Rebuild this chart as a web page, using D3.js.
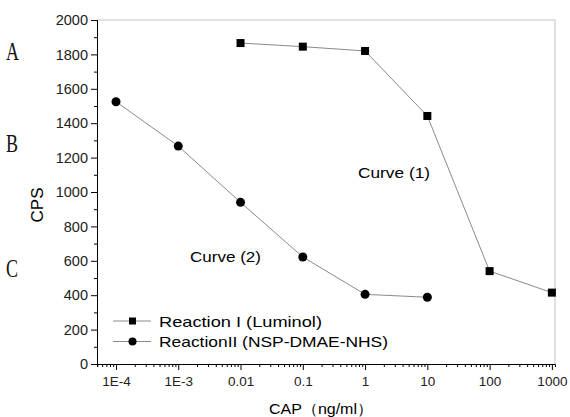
<!DOCTYPE html>
<html>
<head>
<meta charset="utf-8">
<script src="https://d3js.org/d3.v7.min.js"></script>
<style>
  body { margin: 0; background: #fff; }
  svg text { font-family: "Liberation Sans", Arial, sans-serif; }
</style>
</head>
<body>
<div id="chart"></div>
<script>
const width = 570;
const height = 417;

// data
const xTicks = [1e-4, 1e-3, 0.01, 0.1, 1, 10, 100, 1000];
const xTickLabels = ["1E-4", "1E-3", "0.01", "0.1", "1", "10", "100", "1000"];
const yTicks = [0, 200, 400, 600, 800, 1000, 1200, 1400, 1600, 1800, 2000];

const luminolX = [0.01, 0.1, 1, 10, 100, 1000];
const luminolY = [1866, 1845, 1820, 1442, 540, 415];
const dmaeX = [1e-4, 1e-3, 0.01, 0.1, 1, 10];
const dmaeY = [1525, 1267, 940, 622, 405, 388];

const legendLabels = ["Reaction I (Luminol)", "ReactionII (NSP-DMAE-NHS)"];

const margin = {left: 97, right: 15, top: 20, bottom: 53};

const x = d3.scaleLog()
    .domain([Math.pow(10, -4.305), Math.pow(10, 3.05)])
    .range([margin.left, width - margin.right]);
const y = d3.scaleLinear()
    .domain([0, 2000])
    .range([height - margin.bottom, margin.top]);

const svg = d3.select("div#chart").append("svg")
    .attr("width", width)
    .attr("height", height);

// light frame on top and right
svg.append("path")
    .attr("d", `M${x.range()[0]},${y(2000)}H${x.range()[1]}V${y(0)}`)
    .attr("fill", "none")
    .attr("stroke", "#d8d8d8")
    .attr("stroke-width", 1.5);

// x axis with minor log ticks
const minor = [];
for (let e = -5; e <= 3; e++) {
    for (let m = 2; m <= 9; m++) {
        const v = m * Math.pow(10, e);
        if (v >= x.domain()[0] && v <= x.domain()[1]) minor.push(v);
    }
}
const gx = svg.append("g").attr("transform", `translate(0,${y(0)})`);
gx.call(d3.axisBottom(x).tickValues(minor).tickSize(3).tickFormat(""));
gx.call(g => g.append("g").call(d3.axisBottom(x).tickValues(xTicks).tickSize(6)
    .tickFormat((d, i) => xTickLabels[i])));
gx.selectAll(".domain").attr("stroke", "#000");
gx.selectAll("line").attr("stroke", "#000");
gx.selectAll("text").attr("fill", "#222").attr("dy", "0.95em")
    .style("font-size", "13.5px");
gx.selectAll(".domain").filter((d, i) => i > 0).remove();

// y axis with minor ticks
const yMinor = d3.range(100, 2000, 200);
const gy = svg.append("g").attr("transform", `translate(${x.range()[0]},0)`);
gy.call(d3.axisLeft(y).tickValues(yMinor).tickSize(3).tickFormat(""));
gy.call(g => g.append("g").call(d3.axisLeft(y).tickValues(yTicks).tickSize(6)
    .tickFormat(d3.format("d"))));
gy.selectAll(".domain").attr("stroke", "#000");
gy.selectAll("line").attr("stroke", "#000");
gy.selectAll("text").attr("fill", "#222").style("font-size", "14.5px");

// series lines
const line = d3.line().x(d => x(d[0])).y(d => y(d[1]));
const s1 = luminolX.map((v, i) => [v, luminolY[i]]);
const s2 = dmaeX.map((v, i) => [v, dmaeY[i]]);

[s1, s2].forEach(s => {
    svg.append("path")
        .attr("d", line(s))
        .attr("fill", "none")
        .attr("stroke", "#8a8a8a")
        .attr("stroke-width", 1);
});

svg.selectAll("rect.sq")
    .data(s1)
    .join("rect")
    .attr("class", "sq")
    .attr("x", d => x(d[0]) - 4)
    .attr("y", d => y(d[1]) - 4)
    .attr("width", 8)
    .attr("height", 8)
    .attr("fill", "#000");

svg.selectAll("circle.dot")
    .data(s2)
    .join("circle")
    .attr("class", "dot")
    .attr("cx", d => x(d[0]))
    .attr("cy", d => y(d[1]))
    .attr("r", 4.5)
    .attr("fill", "#000");

// stretched text like the picture
function label(px, py, txt, len, size) {
    return svg.append("text").attr("x", px).attr("y", py)
        .style("font-size", size + "px")
        .attr("textLength", len)
        .attr("lengthAdjust", "spacingAndGlyphs")
        .text(txt);
}

// annotations
label(358, 178, "Curve (1)", 72, 15);
label(190, 262, "Curve (2)", 71, 15);

// legend
const legendLen = [163, 229];
legendLabels.forEach((lab, i) => {
    const ly = 321 + i * 20.5;
    svg.append("line").attr("x1", 113).attr("x2", 151).attr("y1", ly).attr("y2", ly)
        .attr("stroke", "#8a8a8a");
    if (i === 0) {
        svg.append("rect").attr("x", 129).attr("y", ly - 3.5).attr("width", 7).attr("height", 7);
    } else {
        svg.append("circle").attr("cx", 132.5).attr("cy", ly).attr("r", 4);
    }
    label(159, ly + 5.5, lab, legendLen[i], 15);
});

// axis titles
svg.append("text")
    .attr("transform", `translate(43,205) rotate(-90)`)
    .attr("text-anchor", "middle")
    .style("font-size", "17px")
    .attr("textLength", 35)
    .attr("lengthAdjust", "spacingAndGlyphs")
    .text("CPS");
label(269, 414, "CAP（ng/ml）", 104, 15);

// side letters
[["A", 60], ["B", 152], ["C", 277]].forEach(([t, ly]) => {
    svg.append("text")
        .attr("transform", `translate(6,${ly}) scale(0.72,1)`)
        .style("font-family", "'Liberation Serif', 'DejaVu Serif', serif")
        .style("font-size", "25px")
        .attr("fill", "#111")
        .text(t);
});
</script>
</body>
</html>
